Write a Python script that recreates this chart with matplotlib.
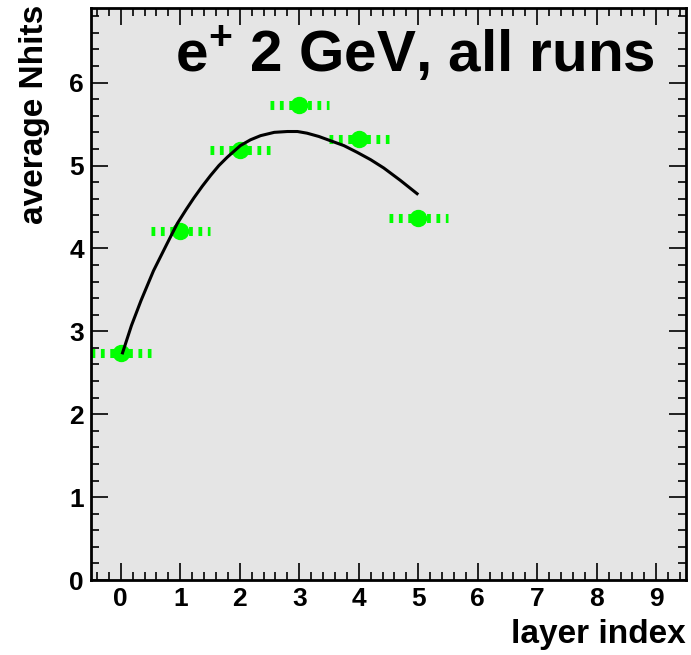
import numpy as np
import matplotlib.pyplot as plt
from matplotlib.ticker import MultipleLocator

# measured points: layer index vs average Nhits
layers = [0, 1, 2, 3, 4, 5]
nhits = [2.74, 4.21, 5.19, 5.73, 5.32, 4.37]
xerr = [0.5, 0.5, 0.5, 0.5, 0.5, 0.5]

# fit curve
fit_x = [0.03, 0.18, 0.34, 0.55, 0.78, 0.95, 1.10, 1.23, 1.37, 1.51, 1.65,
         1.79, 2.01, 2.18, 2.35, 2.58, 2.80, 2.97, 3.13, 3.33, 3.52, 3.75,
         3.97, 4.20, 4.42, 4.70, 4.98]
fit_y = [2.74, 3.07, 3.37, 3.73, 4.06, 4.30, 4.47, 4.61, 4.75, 4.88, 5.00,
         5.10, 5.24, 5.31, 5.36, 5.40, 5.41, 5.41, 5.39, 5.35, 5.30, 5.24,
         5.16, 5.07, 4.97, 4.82, 4.66]

title = "e$^{\\mathbf{+}}$ 2 GeV, all runs"

plt.rcParams['font.family'] = ['Liberation Sans', 'DejaVu Sans']
plt.rcParams['font.weight'] = 'bold'
plt.rcParams['mathtext.fontset'] = 'custom'
plt.rcParams['mathtext.bf'] = 'Liberation Sans:bold'
plt.rcParams['mathtext.rm'] = 'Liberation Sans:bold'

fig = plt.figure(figsize=(6.91, 6.55), dpi=100)
ax = fig.add_axes([0.1317, 0.1145, 0.8611, 0.8733])
ax.set_facecolor('#e5e5e5')

green = '#00ff00'
ax.hlines(nhits, np.array(layers) - np.array(xerr), np.array(layers) + np.array(xerr),
          colors=green, linewidth=6.5, linestyles=(0, (0.42, 0.62)), zorder=2)
ax.plot(layers, nhits, 'o', color=green, markersize=11.5, zorder=3)
ax.plot(fit_x, fit_y, color='black', linewidth=2.2, zorder=4,
        solid_joinstyle='round')

ax.set_xlim(-0.5, 9.5)
ax.set_ylim(0, 6.9)
ax.xaxis.set_major_locator(MultipleLocator(1))
ax.xaxis.set_minor_locator(MultipleLocator(0.2))
ax.yaxis.set_major_locator(MultipleLocator(1))
ax.yaxis.set_minor_locator(MultipleLocator(0.2))
ax.tick_params(which='both', direction='in', top=True, right=True, width=1.2)
ax.tick_params(which='major', length=12, labelsize=19, pad=5)
ax.tick_params(which='minor', length=6)
for s in ax.spines.values():
    s.set_linewidth(2)
for lab in ax.get_xticklabels() + ax.get_yticklabels():
    lab.set_fontweight('bold')

ax.text(0.947, 0.972, title, transform=ax.transAxes, ha='right', va='top',
        fontsize=42, fontweight='bold')

fig.text(0.993, 0.008, "layer index", ha='right', va='bottom', fontsize=24, fontweight='bold')
fig.text(0.028, 0.993, "average Nhits", ha='left', va='top', rotation=90,
         fontsize=24, fontweight='bold')

fig.savefig('out.png', dpi=100)
